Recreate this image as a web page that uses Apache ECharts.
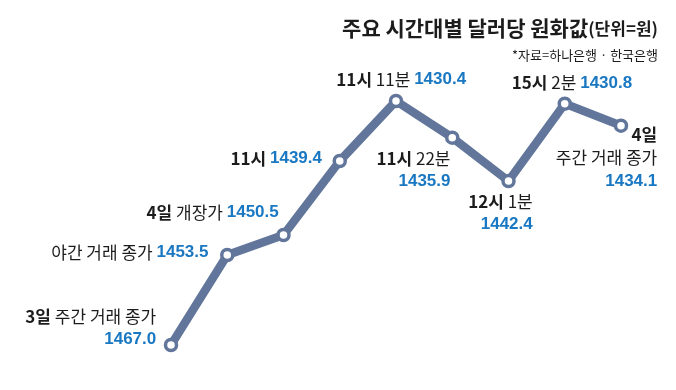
<!DOCTYPE html>
<html><head><meta charset="utf-8">
<script src="https://cdn.jsdelivr.net/npm/echarts@6/dist/echarts.min.js"></script>
<style>html,body{margin:0;padding:0;background:#fff}#c{width:676px;height:390px}</style>
</head><body><div id="c"></div>
<script>
const categories = ['3일 주간 거래 종가','야간 거래 종가','4일 개장가','11시','11시 11분','11시 22분','12시 1분','15시 2분','4일 주간 거래 종가'];
const values = [1467.0, 1453.5, 1450.5, 1439.4, 1430.4, 1435.9, 1442.4, 1430.8, 1434.1];
const boldParts = ['3일', '', '4일', '11시', '11시', '11시', '12시', '15시', '4일'];
const plainParts = ['주간 거래 종가', '야간 거래 종가', '개장가', '', '11분', '22분', '1분', '2분', '주간 거래 종가'];
const titleText = '주요 시간대별 달러당 원화값';
const unitText = '(단위=원)';
const sourceText = '*자료=하나은행 · 한국은행';

const LINE = '#61769a', BLUE = '#1a78c2', DARK = '#1c1c1c';
const KF = '"Noto Sans CJK KR", "Noto Sans", sans-serif';
const NF = '"Liberation Sans", Arial, sans-serif';

// label layout: [offsetX, offsetY from point centre, align, lineBreak pattern]
const layout = [
  [-13, -15, 'right', 'b2'],
  [-17, -1, 'right', 'a'],
  [-3, -21, 'right', 'a'],
  [-16, -1, 'right', 'a'],
  [7, -20, 'center', 'a'],
  [0, 34, 'right', 'b2'],
  [26, 34, 'right', 'b2'],
  [9, -19, 'center', 'a'],
  [38, 34, 'right', 'b3']
];

function mkRich(al) {
  return {
    k: {fontFamily: KF, fontWeight: 'bold', fontSize: 17, color: DARK, align: al, lineHeight: 23},
    p: {fontFamily: KF, fontSize: 17, color: DARK, align: al, lineHeight: 23},
    n: {fontFamily: NF, fontWeight: 'bold', fontSize: 17, color: BLUE, align: al, lineHeight: 23}
  };
}

const SYM = 11;
const data = values.map((v, i) => {
  const L = layout[i];
  const b = boldParts[i], p = plainParts[i], num = v.toFixed(1);
  const segs = [];
  if (b) segs.push('{k|' + b + '}');
  if (p) segs.push('{p|' + p + '}');
  let text;
  if (L[3] === 'a') text = segs.join('{p| }') + '{p| }{n|' + num + '}';
  else if (L[3] === 'b2') text = segs.join('{p| }') + '\n{n|' + num + '}';
  else text = segs.join('\n') + '\n{n|' + num + '}';
  return {
    value: v,
    label: {
      show: true,
      position: [L[0] + SYM / 2, L[1] + SYM / 2],
      align: L[2],
      verticalAlign: 'middle',
      formatter: text,
      rich: mkRich(L[2])
    }
  };
});

const chart = echarts.init(document.getElementById('c'), null, {renderer: 'canvas'});
chart.setOption({
  animation: false,
  backgroundColor: '#fff',
  title: [{
    text: '{b|' + titleText + '}{u|' + unitText + '}',
    right: 13, top: 13,
    textStyle: {rich: {
      b: {fontFamily: KF, fontWeight: 'bold', fontSize: 21, color: DARK},
      u: {fontFamily: KF, fontSize: 17, color: DARK}
    }}
  }, {
    text: sourceText,
    right: 13, top: 44,
    textStyle: {fontFamily: KF, fontSize: 13, fontWeight: 'normal', color: DARK}
  }],
  grid: {left: 171, right: 55, top: 65, bottom: 25},
  xAxis: {type: 'category', data: categories, boundaryGap: false, show: false},
  yAxis: {type: 'value', inverse: true, min: 1425, max: 1470, show: false},
  series: [{
    type: 'line',
    data: data,
    symbol: 'circle',
    symbolSize: SYM,
    lineStyle: {color: LINE, width: 8.5, cap: 'round', join: 'round'},
    itemStyle: {color: '#fff', borderColor: LINE, borderWidth: 3.5},
    z: 2
  }]
});
</script></body></html>
